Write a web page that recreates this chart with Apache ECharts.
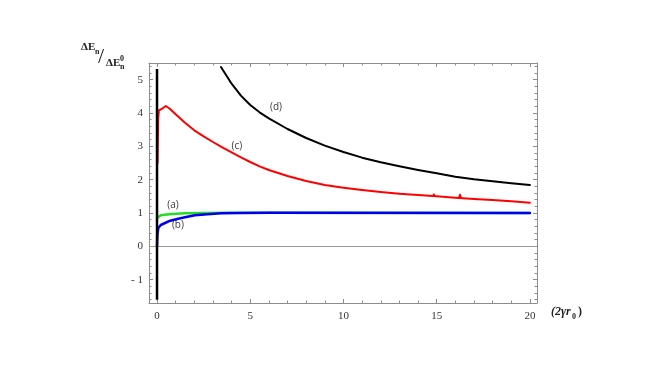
<!DOCTYPE html>
<html lang="en">
<head>
    <meta charset="UTF-8">
    <title>Delta E ratio vs 2 gamma r0</title>
    <script src="https://cdn.jsdelivr.net/npm/echarts/dist/echarts.min.js"></script>
    <style>
        body { margin: 0; background: #fff; }
        #chart { width: 667px; height: 375px; }
    </style>
</head>
<body>
<div id="chart"></div>
<script>
    // curve (d), black
    var dX = [3.43, 4.0, 4.5, 5.0, 5.5, 6.0, 7.0, 8.0, 9.0, 10.0, 11.0, 12.0, 13.0, 14.0, 15.0, 16.0, 17.0, 18.0, 19.0, 20];
    var dY = [5.38, 4.88, 4.52, 4.24, 4.02, 3.84, 3.52, 3.25, 3.02, 2.83, 2.66, 2.52, 2.4, 2.29, 2.19, 2.09, 2.01, 1.95, 1.89, 1.84];
    // curve (c), red
    var cX = [0.03, 0.06, 0.1, 0.25, 0.47, 0.7, 1.0, 1.5, 2.0, 2.5, 3.0, 3.5, 4.0, 4.5, 5.0, 5.5, 6.0, 7.0, 8.0, 9.0, 10.0, 11.0, 12.0, 13.0, 14.0, 15.0, 16.0, 17.0, 18.0, 19.0, 20];
    var cY = [2.5, 3.8, 4.08, 4.12, 4.21, 4.12, 3.96, 3.71, 3.48, 3.3, 3.13, 2.97, 2.82, 2.67, 2.53, 2.4, 2.29, 2.11, 1.96, 1.84, 1.76, 1.69, 1.63, 1.58, 1.54, 1.5, 1.46, 1.42, 1.39, 1.35, 1.31];
    // two small glitches on the red curve
    var spike1X = [14.78, 14.85, 14.92];
    var spike1Y = [1.5, 1.57, 1.5];
    var spike2X = [16.18, 16.25, 16.32];
    var spike2Y = [1.45, 1.56, 1.45];
    // curve (a), green
    var aX = [0, 0.1, 0.2, 0.4, 0.8, 1.5, 2.5, 4, 20];
    var aY = [0.85, 0.9, 0.93, 0.95, 0.97, 0.99, 1.0, 1.01, 1.0];
    // curve (b), blue
    var bX = [0, 0.02, 0.07, 0.2, 0.43, 0.71, 1.14, 1.5, 2.03, 2.7, 3.44, 4.5, 6, 20];
    var bY = [0, 0.35, 0.55, 0.64, 0.7, 0.77, 0.83, 0.87, 0.93, 0.96, 0.99, 1.0, 1.01, 1.0];
    // vertical black line at x = 0
    var vX = [0, 0];
    var vY = [-1.6, 5.32];
    // curve tags
    var tagNames = ['(a)', '(b)', '(c)', '(d)'];
    var tagX = [0.86, 1.12, 4.28, 6.38];
    var tagY = [1.25, 0.64, 3.01, 4.18];

    var xMajor = [0, 5, 10, 15, 20];
    var yMajor = [-1, 0, 1, 2, 3, 4, 5];

    var xMinor = [];
    for (var i = 0; i <= 20; i++) if (i % 5 !== 0) xMinor.push(i);
    var yMinor = [];
    for (var j = -8; j <= 27; j++) if (j % 5 !== 0) yMinor.push(Math.round(j * 20) / 100);

    function pairs(xs, ys) {
        return xs.map(function (x, k) { return [x, ys[k]]; });
    }

    var frameColor = '#8c8c8c';
    var xr = { min: -0.43, max: 20.38 };
    var yr = { min: -1.7, max: 5.5 };

    function xAx(pos, ticks, len, labels, line) {
        return {
            type: 'value', position: pos, min: xr.min, max: xr.max,
            axisLine: { show: line, onZero: false, lineStyle: { color: frameColor, width: 1 } },
            axisTick: { show: true, inside: true, length: len, customValues: ticks, lineStyle: { color: frameColor } },
            axisLabel: labels ? {
                customValues: xMajor, color: '#333', fontFamily: 'Liberation Serif', fontSize: 11, margin: 8
            } : { show: false },
            splitLine: { show: false }
        };
    }
    function yAx(pos, ticks, len, labels, line) {
        return {
            type: 'value', position: pos, min: yr.min, max: yr.max,
            axisLine: { show: line, onZero: false, lineStyle: { color: frameColor, width: 1 } },
            axisTick: { show: true, inside: true, length: len, customValues: ticks, lineStyle: { color: frameColor } },
            axisLabel: labels ? {
                customValues: yMajor, color: '#333', fontFamily: 'Liberation Serif', fontSize: 11, margin: 6,
                formatter: function (v) { return v < 0 ? '- ' + Math.abs(v) : String(v); }
            } : { show: false },
            splitLine: { show: false }
        };
    }

    function curve(xs, ys, color, width) {
        return {
            type: 'line', data: pairs(xs, ys), showSymbol: false, symbol: 'none',
            lineStyle: { color: color, width: width, join: 'round', cap: 'round' }, z: 3
        };
    }

    var chart = echarts.init(document.getElementById('chart'));
    chart.setOption({
        animation: false,
        grid: { left: 149, right: 130, top: 63, bottom: 72 },
        xAxis: [
            xAx('bottom', xMajor, 4, true, true),
            xAx('bottom', xMinor, 2.5, false, false),
            xAx('top', xMajor, 4, false, true),
            xAx('top', xMinor, 2.5, false, false)
        ],
        yAxis: [
            yAx('left', yMajor, 4, true, true),
            yAx('left', yMinor, 2.5, false, false),
            yAx('right', yMajor, 4, false, true),
            yAx('right', yMinor, 2.5, false, false)
        ],
        series: [
            {
                type: 'line', data: [], symbol: 'none',
                markLine: {
                    silent: true, symbol: 'none', label: { show: false },
                    lineStyle: { color: '#999', width: 1, type: 'solid' },
                    data: [{ yAxis: 0 }]
                }
            },
            curve(dX, dY, '#000', 2),
            curve(cX, cY, '#ff0000', 2),
            curve(spike1X, spike1Y, '#ff0000', 1.5),
            curve(spike2X, spike2Y, '#ff0000', 1.5),
            curve(aX, aY, '#22dd22', 2.5),
            curve(bX, bY, '#0000ee', 2.5),
            {
                type: 'line', data: pairs(vX, vY), symbol: 'none',
                lineStyle: { color: '#000', width: 2.5 }, z: 5
            },
            {
                type: 'scatter', symbolSize: 0,
                data: tagNames.map(function (n, k) { return { name: n, value: [tagX[k], tagY[k]] }; }),
                label: {
                    show: true, position: 'inside', formatter: '{b}',
                    fontFamily: 'Open Sans', fontSize: 10, color: '#000'
                }, z: 6
            }
        ],
        graphic: [
            { type: 'text', left: 81, top: 42, style: { text: 'ΔE', font: 'bold 11px "Liberation Serif"', fill: '#222' } },
            { type: 'text', left: 95, top: 48, style: { text: 'n', font: 'bold 8px "Liberation Serif"', fill: '#222' } },
            { type: 'text', left: 98, top: 46, style: { text: '/', font: '22px "Liberation Serif"', fill: '#222' } },
            { type: 'text', left: 106, top: 58, style: { text: 'ΔE', font: 'bold 11px "Liberation Serif"', fill: '#222' } },
            { type: 'text', left: 120, top: 55, style: { text: '0', font: 'bold 8px "Liberation Serif"', fill: '#222' } },
            { type: 'text', left: 120, top: 63, style: { text: 'n', font: 'bold 8px "Liberation Serif"', fill: '#222' } },
            { type: 'text', left: 551, top: 306, style: { text: '(2γr', font: 'bold italic 12px "Liberation Serif"', fill: '#222' } },
            { type: 'text', left: 572, top: 313, style: { text: '0', font: 'bold 8px "Liberation Serif"', fill: '#222' } },
            { type: 'text', left: 578, top: 306, style: { text: ')', font: 'bold 12px "Liberation Serif"', fill: '#222' } }
        ]
    });
</script>
</body>
</html>
